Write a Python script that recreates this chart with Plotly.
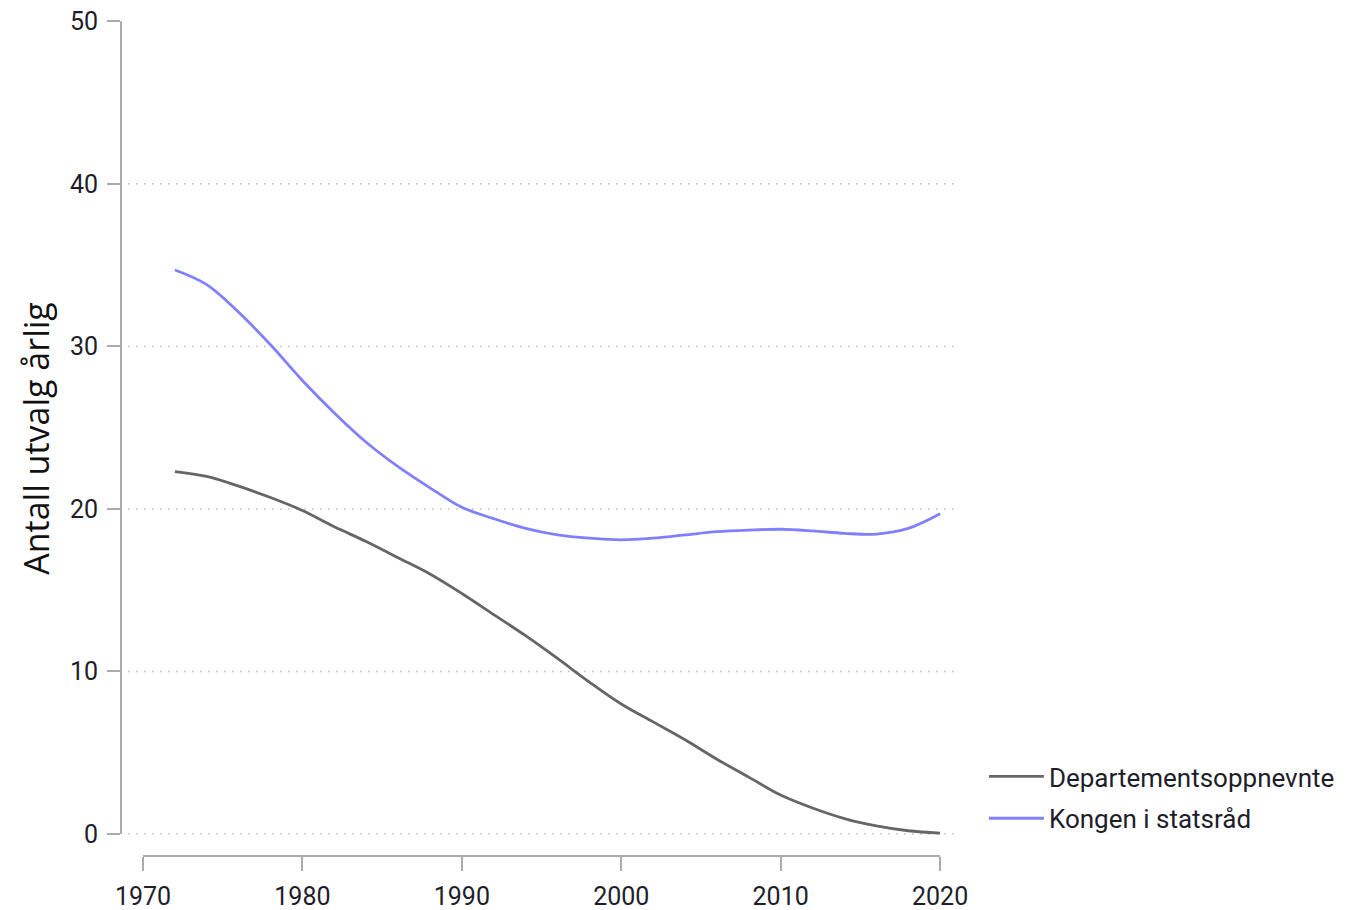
import plotly.graph_objects as go

years = list(range(1972, 2021, 2))
kongen = [34.7, 33.8, 32.1, 30.1, 27.9, 25.9, 24.1, 22.6, 21.3, 20.1,
          19.4, 18.8, 18.4, 18.2, 18.1, 18.2, 18.4, 18.6, 18.7, 18.75,
          18.65, 18.5, 18.45, 18.8, 19.7]
dept = [22.3, 22.0, 21.4, 20.7, 19.9, 18.9, 18.0, 17.0, 16.0, 14.8,
        13.5, 12.2, 10.8, 9.35, 8.0, 6.9, 5.8, 4.6, 3.5, 2.4,
        1.6, 0.95, 0.5, 0.2, 0.05]
series_names = ["Departementsoppnevnte", "Kongen i statsråd"]
series_colors = ["#666666", "#8080ff"]
x_ticks = [1970, 1980, 1990, 2000, 2010, 2020]
y_ticks = [0, 10, 20, 30, 40, 50]
grid_vals = [0, 10, 20, 30, 40]

fig = go.Figure()
for name, vals, col in zip(series_names, [dept, kongen], series_colors):
    fig.add_trace(go.Scatter(x=years, y=vals, mode="lines", name=name,
                             legendgroup=name,
                             line=dict(color=col, width=2.8, shape="spline", smoothing=1.0)))

shapes = []
for g in grid_vals:
    shapes.append(dict(type="line", xref="paper", yref="y", x0=0.0085, x1=1.0, y0=g, y1=g,
                       line=dict(color="#bbbbbb", width=1.5, dash="1.5px,6.5px"), layer="below"))
shapes.append(dict(type="line", xref="paper", yref="y", x0=0, x1=0, y0=0, y1=50,
                   line=dict(color="#aaaaaa", width=2)))
shapes.append(dict(type="line", xref="x", yref="paper", x0=1970, x1=2020, y0=0, y1=0,
                   line=dict(color="#aaaaaa", width=2)))

tick_font = dict(family="Roboto", size=25, color="#1e1e2a")

fig.update_layout(
    width=1363, height=902,
    paper_bgcolor="white", plot_bgcolor="white",
    margin=dict(l=113, r=411, t=13, b=54, autoexpand=False),
    shapes=shapes,
    showlegend=True,
    legend=dict(x=1.0285, xanchor="left", y=0.07, yanchor="middle",
                font=dict(family="Roboto", size=26, color="#1e1e2a"),
                tracegroupgap=5, itemwidth=55, bgcolor="rgba(0,0,0,0)"),
    xaxis=dict(range=[1968.62, 2021.25], tickvals=x_ticks, showgrid=False, zeroline=False,
               showline=False, ticks="outside", ticklen=14, tickwidth=2, tickcolor="#aaaaaa",
               tickfont=tick_font, ticklabelstandoff=4, automargin=False,
               ticklabeloverflow="allow"),
    yaxis=dict(range=[-1.353, 50.02], tickvals=y_ticks, showgrid=False, zeroline=False,
               showline=False, ticks="outside", ticklen=13, tickwidth=2, tickcolor="#aaaaaa",
               tickfont=tick_font, ticklabelstandoff=4, automargin=False,
               ticklabeloverflow="allow",
               title=dict(text="Antall utvalg årlig", standoff=9,
                          font=dict(family="Open Sans", size=34, color="#111111"))),
)

fig.write_html("out.html")
